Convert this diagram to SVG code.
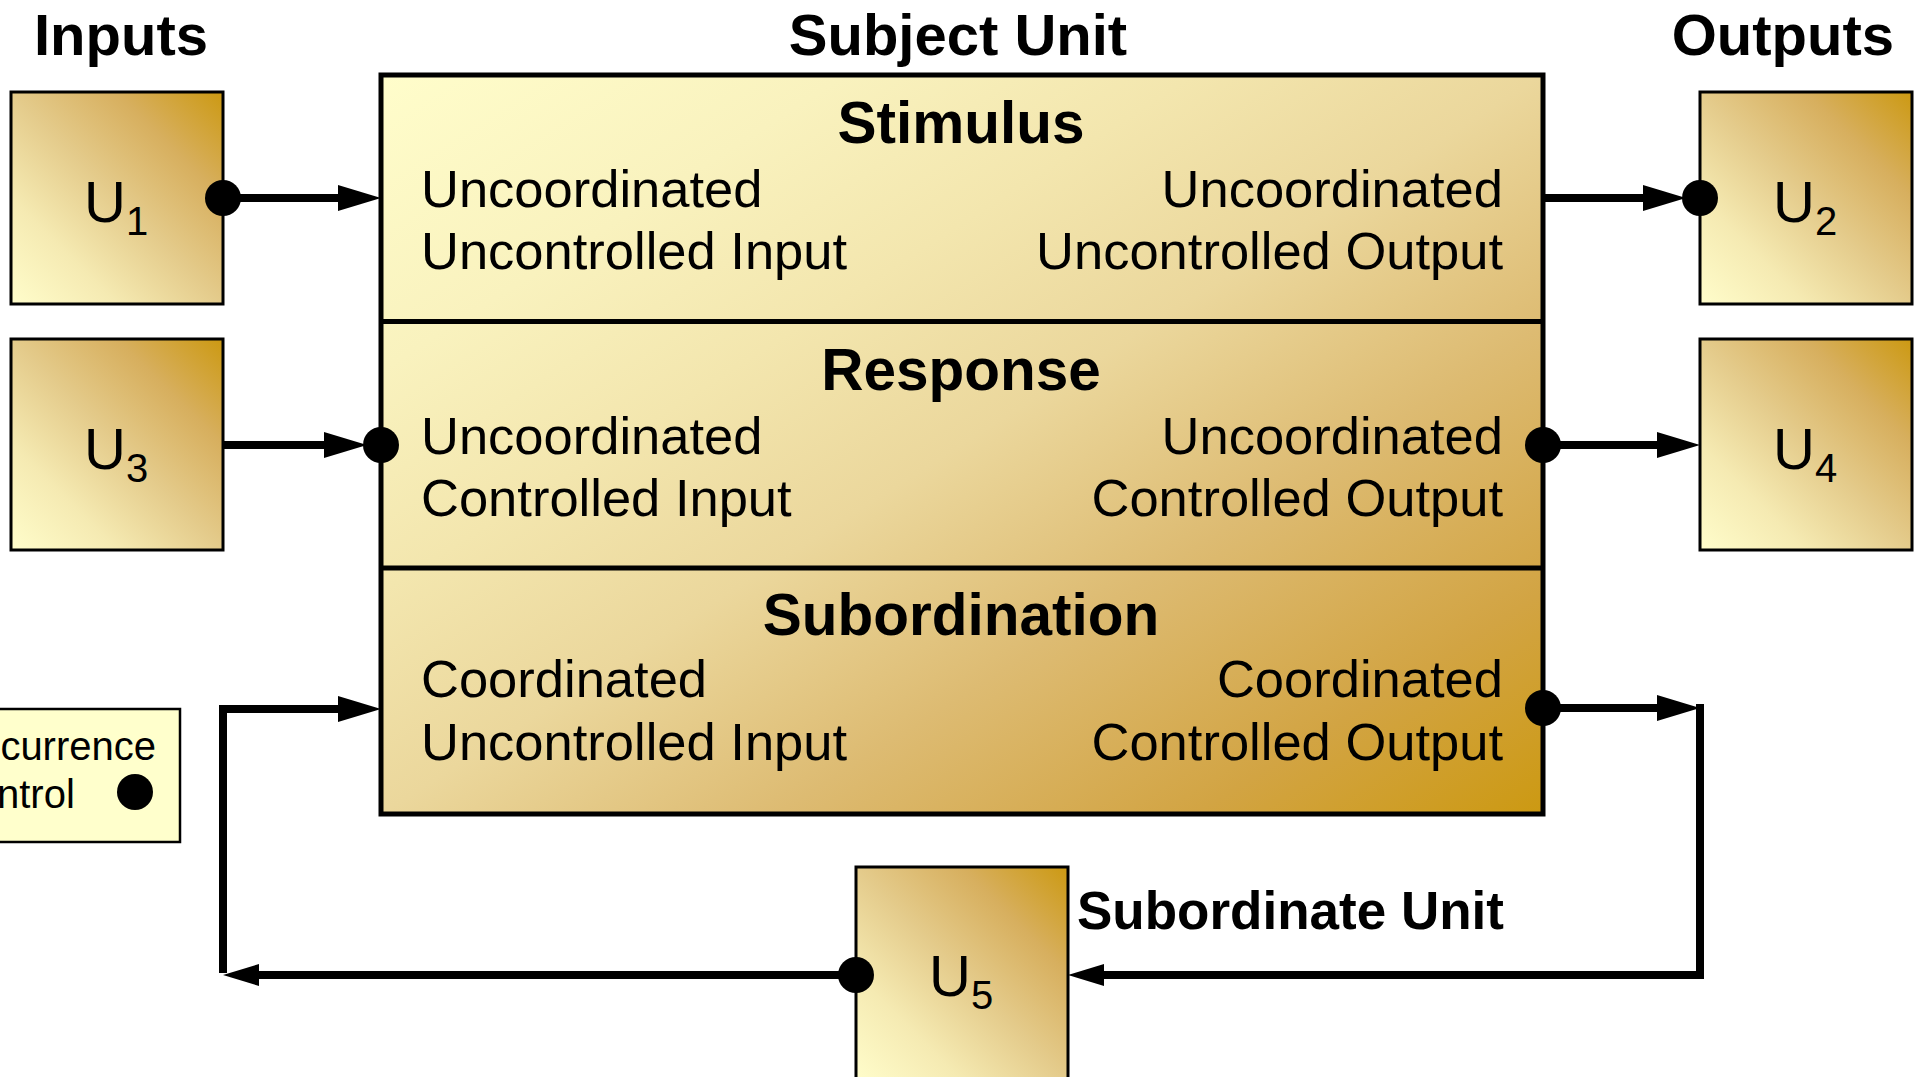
<svg xmlns="http://www.w3.org/2000/svg" width="1917" height="1077" viewBox="0 0 1917 1077">
  <defs>
    <linearGradient id="gU" x1="0" y1="1" x2="1" y2="0">
      <stop offset="0" stop-color="#FFFDCB"/>
      <stop offset="0.25" stop-color="#F5EAB2"/>
      <stop offset="0.5" stop-color="#E4CB8B"/>
      <stop offset="0.75" stop-color="#D7AF5E"/>
      <stop offset="1" stop-color="#CC9912"/>
    </linearGradient>
    <linearGradient id="gMain" x1="0" y1="0" x2="1" y2="1">
      <stop offset="0" stop-color="#FFFDCB"/>
      <stop offset="0.2" stop-color="#F9F2BE"/>
      <stop offset="0.35" stop-color="#F3E6AE"/>
      <stop offset="0.5" stop-color="#EBD79C"/>
      <stop offset="0.67" stop-color="#DDBB72"/>
      <stop offset="0.85" stop-color="#D2A443"/>
      <stop offset="1" stop-color="#CC9912"/>
    </linearGradient>
    <marker id="arrowL" markerUnits="userSpaceOnUse" markerWidth="43" markerHeight="26" viewBox="0 0 43 26" refX="1" refY="13" orient="auto">
      <path d="M0,0 L43,13 L0,26 z" fill="#000"/>
    </marker>
    <marker id="arrowS" markerUnits="userSpaceOnUse" markerWidth="36" markerHeight="22" viewBox="0 0 36 22" refX="1" refY="11" orient="auto">
      <path d="M0,0 L36,11 L0,22 z" fill="#000"/>
    </marker>
  </defs>
  <style>
    text { font-family: "Liberation Sans", Arial, sans-serif; fill: #000; }
    .title { font-size: 58px; font-weight: bold; }
    .sub { font-size: 53px; font-weight: bold; }
    .hdr { font-size: 58.5px; font-weight: bold; text-anchor: middle; }
    .body { font-size: 52.5px; }
    .right { text-anchor: end; }
    .ulbl { font-size: 58px; }
    .usub { font-size: 40px; }
    .ubox { fill: url(#gU); stroke: #000; stroke-width: 3; }
    .main { fill: url(#gMain); stroke: #000; stroke-width: 5; }
    .div { stroke: #000; stroke-width: 5; }
    .conn { fill: none; stroke: #000; stroke-width: 8; stroke-linejoin: miter; }
    .dot { fill: #000; }
    .legend { fill: #FFFFCC; stroke: #000; stroke-width: 2.5; }
    .leg { font-size: 40px; }
  </style>

  <g id="titles">
    <text class="title" x="34" y="55">Inputs</text>
    <text class="title" x="958" y="55" text-anchor="middle">Subject Unit</text>
    <text class="title" x="1894" y="55" text-anchor="end">Outputs</text>
  </g>

  <g id="legend">
    <rect class="legend" x="-5" y="709" width="185" height="133"/>
    <text class="leg" x="156" y="760" text-anchor="end">currence</text>
    <text class="leg" x="-3" y="808">ntrol</text>
    <circle class="dot" cx="135" cy="792" r="18"/>
  </g>

  <g id="subject-unit">
    <rect class="main" x="381" y="75" width="1162" height="739"/>
    <line class="div" x1="381" y1="321.5" x2="1543" y2="321.5"/>
    <line class="div" x1="381" y1="568" x2="1543" y2="568"/>
    <g id="stimulus">
      <text class="hdr" x="961" y="143">Stimulus</text>
      <text class="body" x="421" y="207">Uncoordinated</text>
      <text class="body" x="421" y="269">Uncontrolled Input</text>
      <text class="body right" x="1503" y="207">Uncoordinated</text>
      <text class="body right" x="1503" y="269">Uncontrolled Output</text>
    </g>
    <g id="response">
      <text class="hdr" x="961" y="390">Response</text>
      <text class="body" x="421" y="454">Uncoordinated</text>
      <text class="body" x="421" y="516">Controlled Input</text>
      <text class="body right" x="1503" y="454">Uncoordinated</text>
      <text class="body right" x="1503" y="516">Controlled Output</text>
    </g>
    <g id="subordination">
      <text class="hdr" x="961" y="635">Subordination</text>
      <text class="body" x="421" y="697">Coordinated</text>
      <text class="body" x="421" y="760">Uncontrolled Input</text>
      <text class="body right" x="1503" y="697">Coordinated</text>
      <text class="body right" x="1503" y="760">Controlled Output</text>
    </g>
  </g>

  <g id="U1">
    <rect class="ubox" x="11" y="92" width="212" height="212"/>
    <text x="84" y="222"><tspan class="ulbl">U</tspan><tspan class="usub" dy="13">1</tspan></text>
  </g>
  <g id="U3">
    <rect class="ubox" x="11" y="339" width="212" height="211"/>
    <text x="84" y="469"><tspan class="ulbl">U</tspan><tspan class="usub" dy="13">3</tspan></text>
  </g>
  <g id="U2">
    <rect class="ubox" x="1700" y="92" width="212" height="212"/>
    <text x="1773" y="222"><tspan class="ulbl">U</tspan><tspan class="usub" dy="13">2</tspan></text>
  </g>
  <g id="U4">
    <rect class="ubox" x="1700" y="339" width="212" height="211"/>
    <text x="1773" y="469"><tspan class="ulbl">U</tspan><tspan class="usub" dy="13">4</tspan></text>
  </g>
  <g id="U5">
    <rect class="ubox" x="856" y="867" width="212" height="214"/>
    <text x="929" y="996"><tspan class="ulbl">U</tspan><tspan class="usub" dy="13">5</tspan></text>
    <text class="sub" x="1077" y="929">Subordinate Unit</text>
  </g>

  <g id="connectors">
    <path class="conn" d="M223,198 H339" marker-end="url(#arrowL)"/>
    <path class="conn" d="M223,445 H325" marker-end="url(#arrowL)"/>
    <path class="conn" d="M1543,198 H1644" marker-end="url(#arrowL)"/>
    <path class="conn" d="M1543,445 H1658" marker-end="url(#arrowL)"/>
    <path class="conn" d="M1543,708 H1658" marker-end="url(#arrowL)"/>
    <path class="conn" d="M1700,704 V975 H1103" marker-end="url(#arrowS)"/>
    <path class="conn" d="M856,975 H258" marker-end="url(#arrowS)"/>
    <path class="conn" d="M223,973 V709 H339" marker-end="url(#arrowL)"/>
    <circle class="dot" cx="223" cy="198" r="18"/>
    <circle class="dot" cx="381" cy="445" r="18"/>
    <circle class="dot" cx="1700" cy="198" r="18"/>
    <circle class="dot" cx="1543" cy="445" r="18"/>
    <circle class="dot" cx="1543" cy="708" r="18"/>
    <circle class="dot" cx="856" cy="975" r="18"/>
  </g>
</svg>
